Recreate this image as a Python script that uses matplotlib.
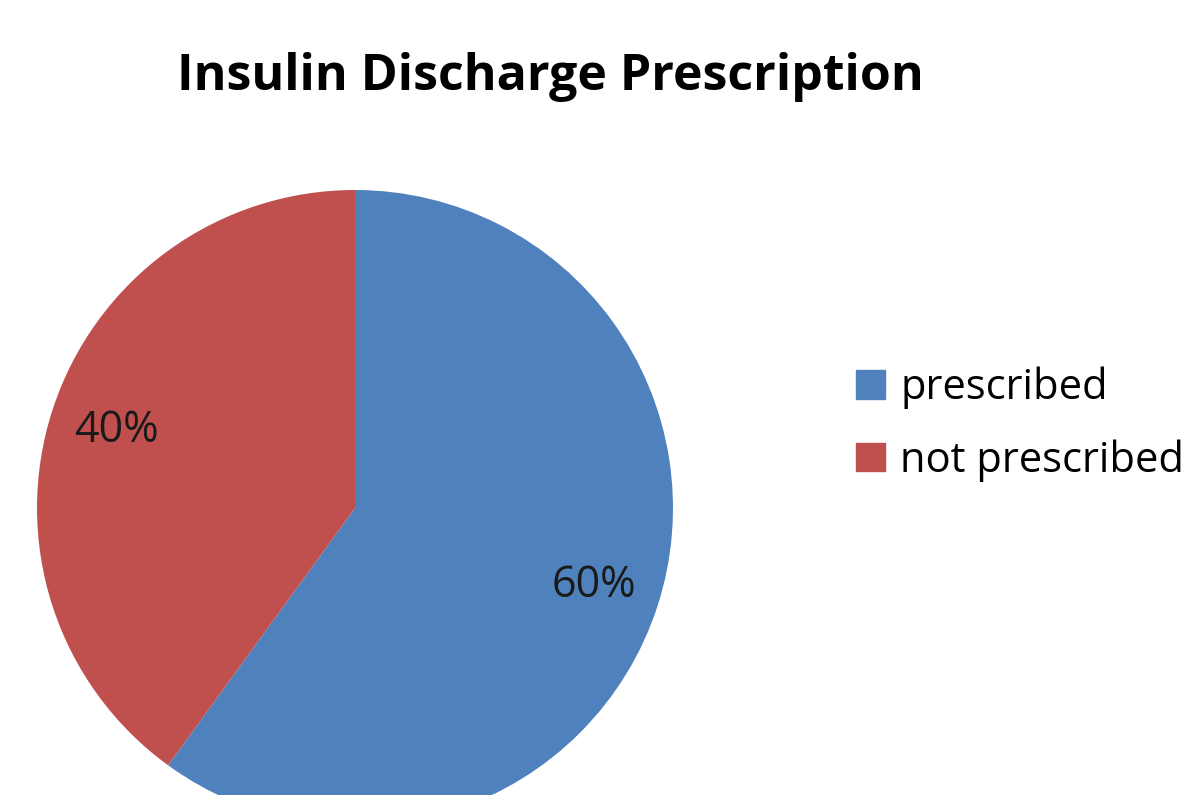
import matplotlib
matplotlib.use("Agg")
import matplotlib.pyplot as plt

labels = ["prescribed", "not prescribed"]
shares = [60, 40]
colors = ["#4F81BD", "#C0504D"]

plt.rcParams['font.family'] = ['Open Sans', 'DejaVu Sans']

W, H = 1201, 795
fig = plt.figure(figsize=(W / 100, H / 100), dpi=100)

# pie centre (355, 508) px, radius 318 px; lower part runs off the canvas
cx, cy, r = 355, 508, 318
ax = fig.add_axes([(cx - r) / W, (H - cy - r) / H, 2 * r / W, 2 * r / H])
wedges, _, autotexts = ax.pie(shares, colors=colors, startangle=90, counterclock=False,
                              autopct='%d%%', pctdistance=0.79, radius=1,
                              wedgeprops=dict(linewidth=0),
                              textprops=dict(fontsize=31, color='#1a1a1a'))
ax.set_xlim(-1, 1)
ax.set_ylim(-1, 1)
ax.set_aspect('equal')
ax.axis('off')
for w in wedges:
    w.set_clip_on(False)

fig.text(550 / W, 1 - 90 / H, "Insulin Discharge Prescription", ha='center', va='baseline',
         fontsize=36, fontweight='bold', color='#000000')

handles = [plt.Rectangle((0, 0), 1, 1, color=c) for c in colors]
fig.legend(handles, labels, loc='center left', bbox_to_anchor=(818 / W, 1 - 424 / H),
           frameon=False, fontsize=30, handlelength=0.7, handleheight=0.68,
           handletextpad=0.38, labelspacing=0.72)

fig.savefig("out.png", dpi=100)
